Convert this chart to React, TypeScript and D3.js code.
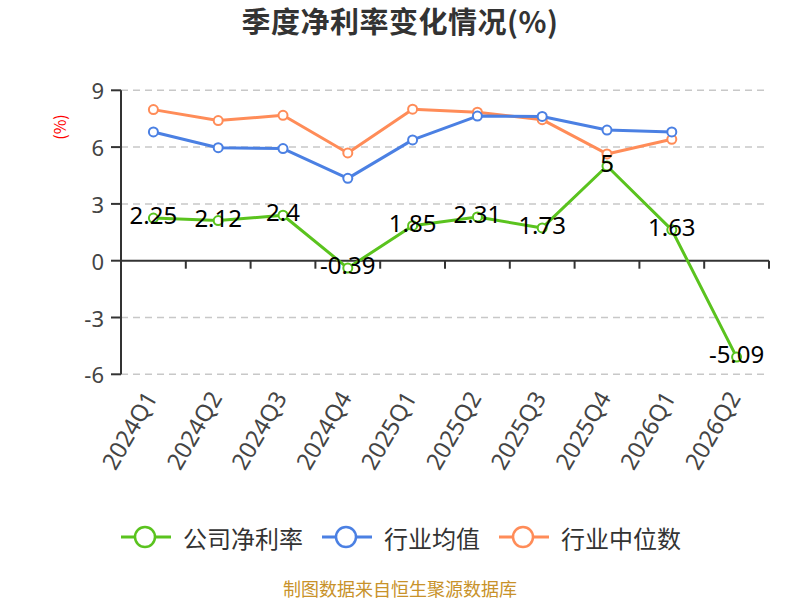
import React from "react";
import * as d3 from "d3";

const quarters = ["2024Q1","2024Q2","2024Q3","2024Q4","2025Q1","2025Q2","2025Q3","2025Q4","2026Q1","2026Q2"];
const companyRate = [2.25, 2.12, 2.4, -0.39, 1.85, 2.31, 1.73, 5, 1.63, -5.09];
const industryAvg: (number | null)[] = [6.8, 5.97, 5.92, 4.35, 6.38, 7.64, 7.62, 6.9, 6.8, null];
const industryMedian: (number | null)[] = [7.98, 7.4, 7.68, 5.69, 8.0, 7.84, 7.45, 5.64, 6.41, null];
const yTicks = [9, 6, 3, 0, -3, -6];
const seriesNames = ["公司净利率", "行业均值", "行业中位数"];
const seriesColors = ["#5ac31e", "#4b80e3", "#ff8c58"];

const FONT = '"Noto Sans CJK SC", "Noto Sans", sans-serif';
const NUMFONT = '"Noto Sans", "Noto Sans CJK SC", sans-serif';

export default function App() {
  const W = 800, H = 600;
  const x = d3.scaleBand<string>().domain(quarters).range([121, 769]).padding(0);
  const y = d3.scaleLinear().domain([-6, 9]).range([374.3, 90.3]);
  const cx = (q: string) => (x(q) as number) + x.bandwidth() / 2;

  const line = d3
    .line<[string, number | null]>()
    .defined((d) => d[1] !== null)
    .x((d) => cx(d[0]))
    .y((d) => y(d[1] as number));

  const series = [companyRate, industryAvg, industryMedian];
  const drawOrder = [2, 1, 0];

  const legendItems = [
    { x: 121 },
    { x: 322 },
    { x: 499 },
  ];

  return (
    <div style={{ position: "absolute", left: 0, top: 0 }}>
      <svg width={W} height={H} style={{ display: "block", background: "#fff" }} fontFamily={FONT}>
        <text x={400} y={33} textAnchor="middle" fontSize={29} fontWeight="bold" fill="#333" letterSpacing={0.5}>
          季度净利率变化情况(%)
        </text>
        <text
          transform={`translate(59,127) rotate(-90)`}
          textAnchor="middle"
          dominantBaseline="central"
          fontSize={16}
          fill="#ff0000"
        >
          (%)
        </text>

        {/* grid lines */}
        {yTicks.filter((t) => t !== 0).map((t) => (
          <line key={t} x1={121} x2={769} y1={y(t)} y2={y(t)} stroke="#c8c8c8" strokeWidth={1.5} strokeDasharray="7,5" />
        ))}

        {/* y axis */}
        <line x1={121} x2={121} y1={y(9)} y2={y(-6)} stroke="#333" strokeWidth={2} />
        {yTicks.map((t) => (
          <g key={t}>
            <line x1={111} x2={121} y1={y(t)} y2={y(t)} stroke="#333" strokeWidth={2} />
            <text x={104} y={y(t)} textAnchor="end" dominantBaseline="central" fontSize={22} fill="#444" fontFamily={NUMFONT}>
              {t}
            </text>
          </g>
        ))}

        {/* x axis at zero */}
        <line x1={121} x2={769} y1={y(0)} y2={y(0)} stroke="#333" strokeWidth={2} />
        {[...quarters.map((q) => x(q) as number), 769].map((px, i) => (
          <line key={i} x1={px} x2={px} y1={y(0)} y2={y(0) + 8} stroke="#333" strokeWidth={2} />
        ))}
        {quarters.map((q) => (
          <text
            key={q}
            transform={`translate(${cx(q) - 3},${393}) rotate(-60)`}
            textAnchor="end"
            dominantBaseline="central"
            fontSize={23.5}
            fill="#444"
            fontFamily={NUMFONT}
          >
            {q}
          </text>
        ))}

        {/* lines */}
        {drawOrder.map((si) => {
          const data = quarters.map((q, i) => [q, series[si][i]] as [string, number | null]);
          return (
            <g key={si}>
              <path d={line(data) || ""} fill="none" stroke={seriesColors[si]} strokeWidth={3} strokeLinejoin="round" />
              {data.filter((d) => d[1] !== null).map((d) => (
                <circle key={d[0]} cx={cx(d[0])} cy={y(d[1] as number)} r={4.5} fill="#fff" stroke={seriesColors[si]} strokeWidth={2} />
              ))}
            </g>
          );
        })}

        {/* data labels */}
        {quarters.map((q, i) => (
          <text key={q} x={cx(q)} y={y(companyRate[i]) + 6} textAnchor="middle" fontSize={24} fill="#000" fontFamily={NUMFONT}>
            {companyRate[i]}
          </text>
        ))}

        {/* legend */}
        {seriesNames.map((name, i) => {
          const it = legendItems[i];
          return (
            <g key={name}>
              <line x1={it.x} x2={it.x + 50} y1={537} y2={537} stroke={seriesColors[i]} strokeWidth={3} />
              <circle cx={it.x + 24} cy={537} r={10} fill="#fff" stroke={seriesColors[i]} strokeWidth={2.5} />
              <text x={it.x + 62} y={537} dominantBaseline="central" fontSize={24} fill="#333">
                {name}
              </text>
            </g>
          );
        })}

        <text x={400} y={588} textAnchor="middle" dominantBaseline="central" fontSize={18} fill="#c8922a">
          制图数据来自恒生聚源数据库
        </text>
      </svg>
    </div>
  );
}
